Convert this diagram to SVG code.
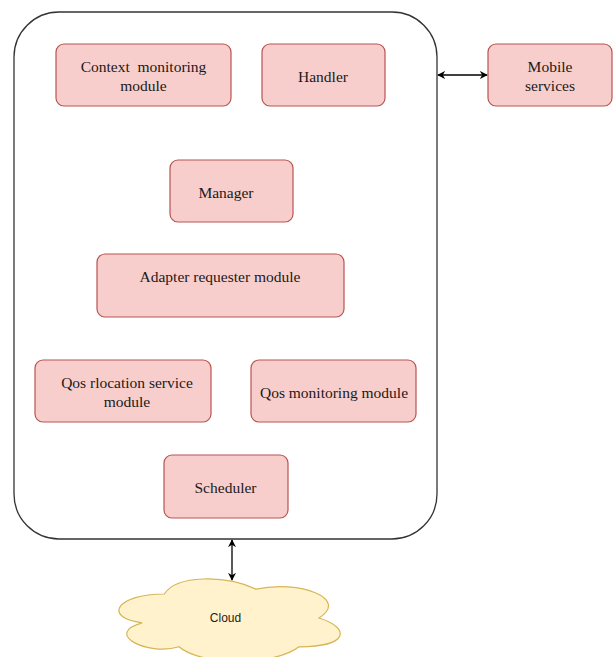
<svg xmlns="http://www.w3.org/2000/svg" width="613" height="657" viewBox="0 0 613 657">
  <style>
    .box { fill: #f8cecc; stroke: #b85450; stroke-width: 1.2; }
    .lbl { font-family: "Liberation Serif", "Times New Roman", serif; font-size: 15.5px; fill: #1a1a1a; text-anchor: middle; dominant-baseline: central; }
    .edge { stroke: #000; stroke-width: 1.3; fill: none; }
    .cloud { fill: #fff2cc; stroke: #d6b656; stroke-width: 1.2; }
    .cloudlbl { font-family: "Liberation Sans", Arial, sans-serif; font-size: 12px; fill: #222; text-anchor: middle; dominant-baseline: central; }
  </style>
  <defs>
    <marker id="arr" viewBox="0 0 10 10" refX="9" refY="5" markerWidth="8" markerHeight="8" orient="auto-start-reverse" markerUnits="userSpaceOnUse">
      <path d="M0,0 L10,5 L0,10 L3,5 Z" fill="#000"/>
    </marker>
  </defs>
  <rect width="613" height="657" fill="#fff"/>

  <!-- container -->
  <g id="system">
    <rect x="14" y="12" width="423" height="527" rx="45" ry="45" fill="#fff" stroke="#333" stroke-width="1.3"/>
  </g>

  <g id="context-monitoring">
    <rect class="box" x="56" y="44" width="175" height="62" rx="8"/>
    <text class="lbl" x="143.5" y="66">Context&#160; monitoring</text>
    <text class="lbl" x="143.5" y="85">module</text>
  </g>
  <g id="handler">
    <rect class="box" x="262" y="44" width="123" height="62" rx="8"/>
    <text class="lbl" x="323" y="76">Handler</text>
  </g>
  <g id="mobile-services">
    <rect class="box" x="488" y="44" width="124" height="62" rx="8"/>
    <text class="lbl" x="550" y="66">Mobile</text>
    <text class="lbl" x="550" y="85">services</text>
  </g>
  <g id="manager">
    <rect class="box" x="170" y="160" width="123" height="62" rx="8"/>
    <text class="lbl" x="226" y="192">Manager</text>
  </g>
  <g id="adapter-requester">
    <rect class="box" x="97" y="254" width="247" height="63" rx="8"/>
    <text class="lbl" x="220" y="276">Adapter requester module</text>
  </g>
  <g id="qos-rlocation">
    <rect class="box" x="35" y="360" width="176" height="62" rx="8"/>
    <text class="lbl" x="127" y="382">Qos rlocation service</text>
    <text class="lbl" x="127" y="401">module</text>
  </g>
  <g id="qos-monitoring">
    <rect class="box" x="251" y="360" width="165" height="62" rx="8"/>
    <text class="lbl" x="334" y="392">Qos monitoring module</text>
  </g>
  <g id="scheduler">
    <rect class="box" x="164" y="455" width="124" height="63" rx="8"/>
    <text class="lbl" x="225.5" y="487">Scheduler</text>
  </g>

  <g id="cloud">
    <path class="cloud" d="M164.3,594 C115.3,594 103,618 142.2,622.8 C103,633.4 147.1,656.4 179,646.8 C201,666 274.5,666 299,646.8 C350,646.8 350,627.6 319,618 C350,598.8 299,579.6 256.1,589.2 C225.5,574.8 176.5,574.8 164.3,594 Z"/>
    <text class="cloudlbl" x="225.5" y="618">Cloud</text>
  </g>

  <!-- connectors -->
  <g id="connectors">
    <line class="edge" x1="438" y1="75" x2="487" y2="75" marker-start="url(#arr)" marker-end="url(#arr)"/>
    <line class="edge" x1="232" y1="540" x2="232" y2="580" marker-start="url(#arr)" marker-end="url(#arr)"/>
  </g>
</svg>
